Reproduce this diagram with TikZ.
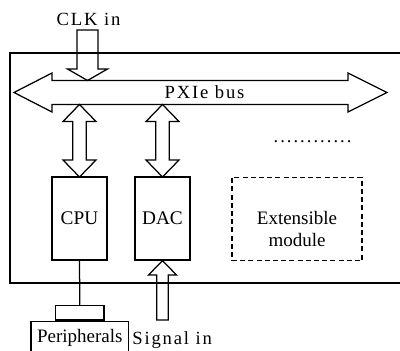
\documentclass[tikz,border=0pt]{standalone}
\usepackage{fontspec}
\setmainfont{Liberation Serif}
\newfontfamily\spacedfont[LetterSpace=10]{Liberation Serif}
\newfontfamily\dotfont[LetterSpace=11]{Liberation Serif}
\newcommand\vdarrow[3]{%
  \draw[blockarrow] ({#1},{#2}) -- ({#1+16.5},{#2+17}) -- ({#1+6.7},{#2+17}) -- ({#1+6.7},{#3-17})
    -- ({#1+16.5},{#3-17}) -- ({#1},{#3}) -- ({#1-16.5},{#3-17}) -- ({#1-6.7},{#3-17})
    -- ({#1-6.7},{#2+17}) -- ({#1-16.5},{#2+17}) -- cycle;}
\begin{document}
\begin{tikzpicture}[x=1pt,y=-1pt,line width=1.25pt,
  box/.style={draw,minimum width=55pt,minimum height=83pt,inner sep=0pt,font=\fontsize{19.3}{22}\selectfont},
  lbl/.style={inner sep=0pt,font=\fontsize{18.6}{22}\spacedfont},
  plain/.style={inner sep=0pt,font=\fontsize{19}{22}\selectfont},
  blockarrow/.style={draw,line join=miter}]
\useasboundingbox (0,0) rectangle (400,351);
\clip (0,0) rectangle (400,351);
% frame
\draw (406,53) -- (10,53) -- (10,283) -- (406,283);
% modules
\node[box] (cpu) at (79.5,218.5) {CPU};
\node[box] (dac) at (162.5,218.5) {DAC};
\node[draw,dash pattern=on 5pt off 3.2pt,minimum width=130pt,minimum height=83.5pt,inner sep=0pt] (ext) at (297,219) {};
\node[inner sep=0pt,align=center,font=\fontsize{19}{22.7}\selectfont] (extlbl) at (297,229) {Extensible\\module};
% peripherals
\node[draw,minimum width=97.7pt,minimum height=40pt,inner sep=0pt,anchor=north] (peri) at (79.8,320.7) {};
\node[draw,minimum width=48.3pt,minimum height=14.7pt,inner sep=0pt,anchor=south] (conn) at (peri.north) {};
\node[plain,anchor=base] (perilbl) at (79.8,342) {Peripherals};
\draw (cpu.south) -- (conn.north);
% bus
\coordinate (busL) at (14,92.5);
\coordinate (busR) at (387,92.5);
\draw[blockarrow] (busL) -- (52,73) -- (52,80.5) -- (348,80.5) -- (348,73) -- (busR)
  -- (348,112) -- (348,104.5) -- (52,104.5) -- (52,112) -- cycle;
\node[lbl] (bus) at (204.5,92.5) {PXIe bus};
% clock in
\coordinate (clktip) at (87.5,80.5);
\draw[blockarrow] (77,30) -- (98,30) -- (98,69) -- (107.5,69) -- (clktip) -- (67.5,69) -- (77,69) -- cycle;
\node[lbl,anchor=base] (clk) at (88.5,25.7) {CLK in};
% bus <-> modules
\vdarrow{79.5}{104.5}{177}
\vdarrow{162.5}{104.5}{177}
% signal in
\draw[blockarrow] (dac.south) -- (176.5,275) -- (168.3,275) -- (168.3,320) -- (156.7,320) -- (156.7,275) -- (148.5,275) -- cycle;
\node[lbl,anchor=base west] (sig) at (131.7,344) {Signal in};
% dots
\node[inner sep=0pt,anchor=base west,font=\fontsize{18.5}{22}\dotfont] (dots) at (273,142.5) {............};
\end{tikzpicture}
\end{document}
